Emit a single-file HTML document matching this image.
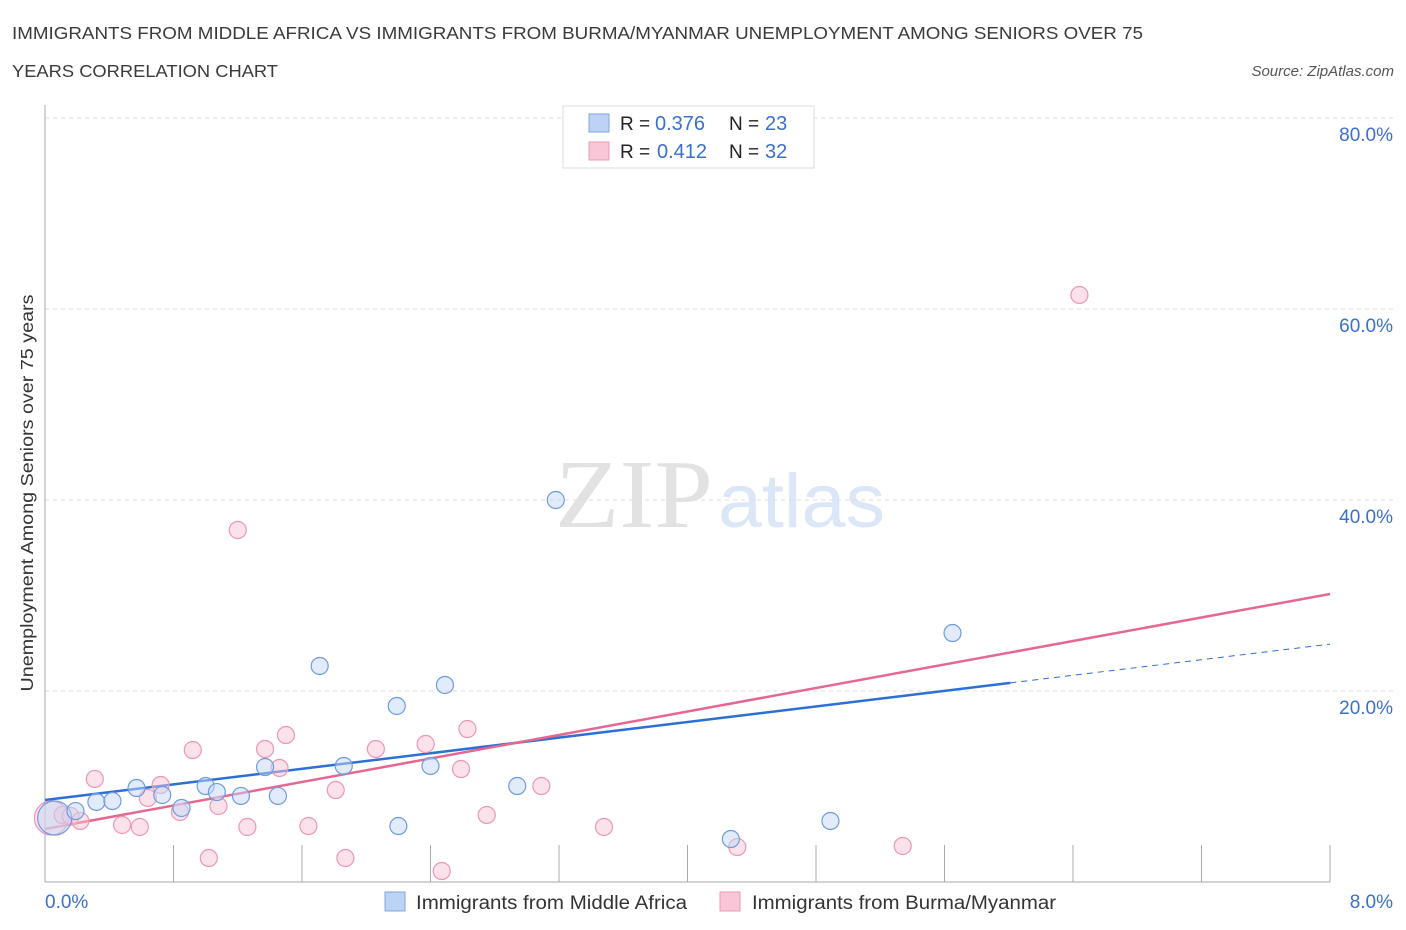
<!DOCTYPE html>
<html><head><meta charset="utf-8"><style>
body{margin:0;background:#fff;font-family:"Liberation Sans",sans-serif;}
svg{display:block}
</style></head><body>
<svg id="chart" width="1406" height="930">
<text x="12" y="39" font-size="17.5" fill="#3a3a3a" textLength="1131" lengthAdjust="spacingAndGlyphs">IMMIGRANTS FROM MIDDLE AFRICA VS IMMIGRANTS FROM BURMA/MYANMAR UNEMPLOYMENT AMONG SENIORS OVER 75</text>
<text x="12" y="77" font-size="17.5" fill="#3a3a3a" textLength="266" lengthAdjust="spacingAndGlyphs">YEARS CORRELATION CHART</text>
<text x="1394" y="76" font-size="15" font-style="italic" fill="#555" text-anchor="end">Source: ZipAtlas.com</text>
<g>
<text x="555" y="527" font-size="98" font-family="Liberation Serif,serif" fill="#e2e2e2" textLength="158" lengthAdjust="spacingAndGlyphs">ZIP</text>
<text x="718" y="527" font-size="76" fill="#dbe6f6" textLength="167" lengthAdjust="spacingAndGlyphs">atlas</text>
</g>
<g id="grid"></g>
<g id="axes"></g>
<g id="lines"></g>
<g id="points"></g>
<text x="33" y="493" font-size="17.5" fill="#333" text-anchor="middle" textLength="397" lengthAdjust="spacingAndGlyphs" transform="rotate(-90 33 493)">Unemployment Among Seniors over 75 years</text>
<g>
<rect x="563" y="106" width="251" height="62" fill="#fff" stroke="#ddd"/>
<rect x="589" y="114" width="20" height="18" fill="#bcd3f5" stroke="#7fa7e3"/>
<rect x="589" y="142" width="20" height="18" fill="#f8c6d6" stroke="#ee9ab4"/>
<text x="620" y="130" font-size="19" fill="#222">R =</text>
<text x="655" y="130" font-size="20" fill="#3b6fcc">0.376</text>
<text x="729" y="130" font-size="19" fill="#222">N =</text>
<text x="765" y="130" font-size="20" fill="#3b6fcc">23</text>
<text x="620" y="158" font-size="19" fill="#222">R =</text>
<text x="657" y="158" font-size="20" fill="#3b6fcc">0.412</text>
<text x="729" y="158" font-size="19" fill="#222">N =</text>
<text x="765" y="158" font-size="20" fill="#3b6fcc">32</text>
</g>
<g>
<rect x="385" y="892" width="20" height="19" fill="#bcd3f5" stroke="#7fa7e3"/>
<text x="416" y="909" font-size="19" fill="#333" textLength="271" lengthAdjust="spacingAndGlyphs">Immigrants from Middle Africa</text>
<rect x="720" y="892" width="20" height="19" fill="#f8c6d6" stroke="#ee9ab4"/>
<text x="752" y="909" font-size="19" fill="#333" textLength="304" lengthAdjust="spacingAndGlyphs">Immigrants from Burma/Myanmar</text>
</g>
</svg>
<script>
const yTicks=[20,40,60,80];
const xTickLabels=["0.0%","8.0%"];
const blueX=[0.06,0.19,0.32,0.42,0.57,0.73,0.85,1.00,1.07,1.22,1.37,1.45,1.71,1.86,2.19,2.20,2.40,2.49,2.94,3.18,4.27,4.89,5.65];
const blueY=[6.7,7.43,8.38,8.48,9.84,9.11,7.75,10.05,9.42,9.01,12.04,9.01,22.62,12.15,18.43,5.86,12.15,20.63,10.05,40.0,4.5,6.39,26.07];
const pinkX=[0.04,0.11,0.16,0.22,0.31,0.48,0.59,0.64,0.72,0.84,0.92,1.02,1.08,1.20,1.26,1.37,1.46,1.50,1.64,1.81,1.87,2.06,2.37,2.47,2.59,2.63,2.75,3.09,3.48,4.31,5.34,6.44];
const pinkY=[6.7,7.02,6.91,6.39,10.79,5.97,5.76,8.8,10.16,7.33,13.82,2.51,7.96,36.86,5.76,13.93,11.94,15.39,5.86,9.63,2.51,13.93,14.45,1.15,11.83,16.02,7.02,10.05,5.76,3.66,3.77,61.47];
const blueFit=[8.59,2.04];
const pinkFit=[5.55,3.076];
const NS="http://www.w3.org/2000/svg";
const X=v=>45+v/8*1285, Y=v=>882-v*9.55;
function mk(tag,parent,attrs){const e=document.createElementNS(NS,tag);for(const k in attrs)e.setAttribute(k,attrs[k]);document.getElementById(parent).appendChild(e);return e;}
yTicks.forEach(t=>{
 const l=mk('line','grid',{x1:45,x2:1394,y1:Y(t),y2:Y(t),stroke:'#ddd','stroke-dasharray':'4 4'});
 
 
 const tx=mk('text','grid',{x:1393,y:Y(t)+23,'font-size':19,fill:'#3b6fcc','text-anchor':'end'});
 tx.textContent=t.toFixed(1)+'%';
 
 
});
const ya=mk('line','axes',{x1:45,x2:45,y1:105,y2:882,stroke:'#aaa'});


const xa=mk('line','axes',{x1:45,x2:1330,y1:882,y2:882,stroke:'#aaa'});


for(let k=1;k<=10;k++){const t=mk('line','axes',{x1:X(k*0.8),x2:X(k*0.8),y1:845,y2:882,stroke:'#aaa'});
 
 }
const xl0=mk('text','axes',{x:45,y:908,'font-size':19,fill:'#3b6fcc'});xl0.textContent=xTickLabels[0];


const xl1=mk('text','axes',{x:1393,y:908,'font-size':19,fill:'#3b6fcc','text-anchor':'end'});xl1.textContent=xTickLabels[1];


function pts(xs,ys,fill,stroke,name){xs.forEach((x,i)=>{
 const c=mk('circle','points',{cx:X(x),cy:Y(ys[i]),r:i===0?17:8.5,fill:fill,'fill-opacity':0.5,stroke:stroke,'stroke-width':1.2});
 
 });}
pts(pinkX,pinkY,'#f8c6d6','#ec97b2','point-burma');
pts(blueX,blueY,'#c3d7f5','#6e9be0','point-middle-africa');
const bl=mk('line','lines',{x1:X(0),y1:Y(blueFit[0]),x2:X(6.01),y2:Y(blueFit[0]+blueFit[1]*6.01),stroke:'#2c6fd6','stroke-width':2.5});


const bd=mk('line','lines',{x1:X(6.01),y1:Y(blueFit[0]+blueFit[1]*6.01),x2:X(8),y2:Y(blueFit[0]+blueFit[1]*8),stroke:'#2c6fd6','stroke-width':1,'stroke-dasharray':'6 5'});


const pl=mk('line','lines',{x1:X(0),y1:Y(pinkFit[0]),x2:X(8),y2:Y(pinkFit[0]+pinkFit[1]*8),stroke:'#e6678f','stroke-width':2.5});


</script>
</body></html>
